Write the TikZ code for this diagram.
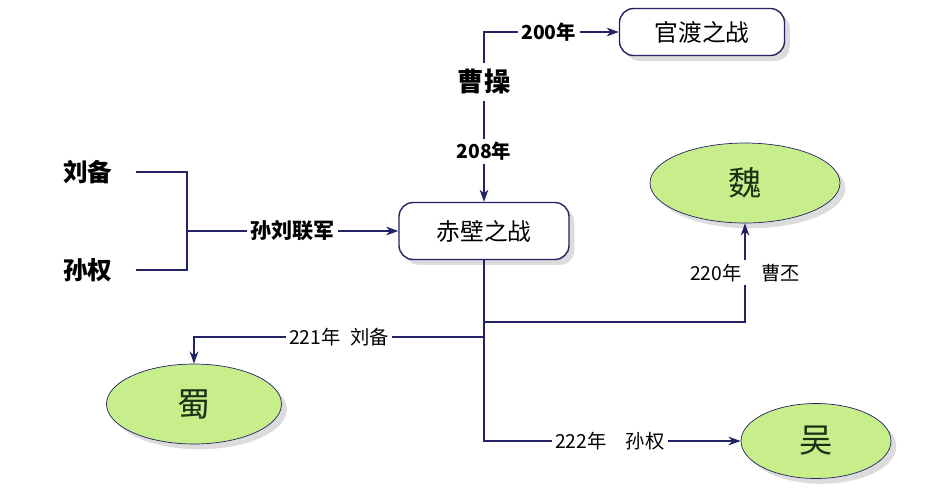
\documentclass[tikz,border=0pt]{standalone}
\usepackage{fontspec}
\usepackage{xcolor}
\usetikzlibrary{arrows.meta,shapes.geometric,shadows}
\setmainfont{Noto Sans CJK SC}
\definecolor{linenavy}{RGB}{35,35,100}
\definecolor{statefill}{RGB}{200,238,140}
\definecolor{statetext}{RGB}{25,50,20}

\begin{document}
\begin{tikzpicture}[
        x=0.02cm, y=-0.02cm, % pixel grid of the reference
        battle/.style={
            draw=linenavy,
            rectangle,
            rounded corners=8pt,
            fill=white,
            thick,
            drop shadow={shadow xshift=3pt, shadow yshift=-3pt, fill=gray!55},
            font=\fontsize{13.5}{15}\selectfont
        },
        state/.style={
            draw=linenavy,
            ellipse,
            fill=statefill,
            text=statetext,
            drop shadow={shadow xshift=3pt, shadow yshift=-3pt, fill=gray!55},
            font=\fontsize{19}{21}\selectfont
        },
        person/.style={
            font=\fontsize{14}{16}\selectfont\bfseries
        },
        line/.style={
            draw=linenavy,
            semithick
        },
        arrow/.style={
            line,
            -{Stealth[length=7pt,width=5pt]}
        },
        lbl/.style={
            fill=white,
            inner sep=2pt,
            font=\fontsize{11}{12}\selectfont
        },
        blbl/.style={
            lbl,
            font=\fontsize{11}{12}\selectfont\bfseries
        }
    ]
        \useasboundingbox (0,0) rectangle (930,495);

        % battles
        \node (guandu) [battle, minimum width=3.3cm, minimum height=0.94cm] at (702,32) {官渡之战};
        \node (chibi) [battle, minimum width=3.4cm, minimum height=1.14cm] at (484,231) {赤壁之战};

        % people
        \node (caocao) [person, font=\fontsize{15}{17}\selectfont\bfseries] at (484,82) {曹操};
        \node (liubei) [person] at (88,172) {刘备};
        \node (sunquan) [person] at (88,270) {孙权};

        % the three states
        \node (wei) [state, minimum width=3.8cm, minimum height=1.6cm] at (745,183) {魏};
        \node (shu) [state, minimum width=3.5cm, minimum height=1.6cm] at (194,404) {蜀};
        \node (wu) [state, minimum width=3.0cm, minimum height=1.5cm] at (816,441) {吴};

        \coordinate (join) at (187,231);
        \coordinate (splitwei) at (484,322);
        \coordinate (splitshu) at (484,337);

        \draw[arrow] (caocao.north) |- (guandu.west) node[pos=0.74, blbl] {200年};
        \draw[arrow] (caocao.south) -- (chibi.north) node[midway, blbl] {208年};

        \draw[line, shorten <=10pt, shorten >=10pt] (liubei.east) -| (join) |- (sunquan.east);
        \draw[arrow] (join) -- (chibi.west) node[midway, blbl, font=\fontsize{12}{13}\selectfont\bfseries] {孙刘联军};

        \draw[arrow] (chibi.south) |- (wu.west) node[pos=0.745, lbl] {222年\quad 孙权};
        \draw[arrow] (splitwei) -| (wei.south) node[pos=0.75, lbl] {220年\quad 曹丕};
        \draw[arrow] (splitshu) -| (shu.north) node[pos=0.25, lbl] {221年\enspace 刘备};
    \end{tikzpicture}
\end{document}
